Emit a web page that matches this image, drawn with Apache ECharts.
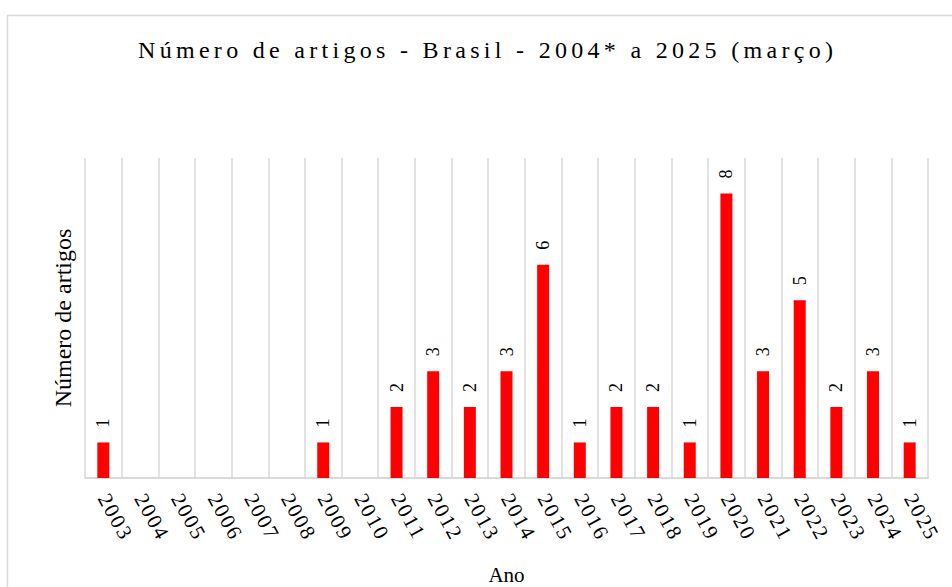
<!DOCTYPE html>
<html>
<head>
<meta charset="utf-8">
<script src="https://cdn.jsdelivr.net/npm/echarts@6/dist/echarts.min.js"></script>
<style>
html, body { margin: 0; padding: 0; background: #fff; }
#chart { width: 952px; height: 587px; }
</style>
</head>
<body>
<div id="chart"></div>
<script>
var anos = ['2003', '2004', '2005', '2006', '2007', '2008', '2009', '2010', '2011', '2012', '2013',
    '2014', '2015', '2016', '2017', '2018', '2019', '2020', '2021', '2022', '2023', '2024', '2025'];
var artigos = [1, 0, 0, 0, 0, 0, 1, 0, 2, 3, 2, 3, 6, 1, 2, 2, 1, 8, 3, 5, 2, 3, 1];
var titulo = 'Número de artigos - Brasil - 2004* a 2025 (março)';

var serif = 'Liberation Serif';

var myChart = echarts.init(document.getElementById('chart'), null, {renderer: 'svg'});

var option = {
    backgroundColor: '#fff',
    animation: false,
    title: {
        text: titulo,
        left: 133,
        top: 33,
        textStyle: {
            fontFamily: serif,
            fontSize: 24,
            fontWeight: 'normal',
            color: '#000'
        }
    },
    graphic: [
        {
            type: 'rect',
            left: 5,
            top: 13,
            shape: {width: 980, height: 620},
            style: {fill: 'none', stroke: '#d9d9d9', lineWidth: 1.5},
            silent: true
        }
    ],
    grid: {
        left: 85,
        right: 24,
        top: 158,
        bottom: 109,
        outerBoundsMode: 'none',
        containLabel: false
    },
    xAxis: {
        type: 'category',
        data: anos,
        name: 'Ano',
        nameLocation: 'middle',
        nameGap: 86,
        nameTextStyle: {fontFamily: serif, fontSize: 21, color: '#000'},
        axisLine: {lineStyle: {color: '#d9d9d9', width: 2}},
        axisTick: {show: false},
        splitLine: {show: true, lineStyle: {color: '#d9d9d9', width: 1.5}},
        axisLabel: {
            interval: 0,
            rotate: -61,
            margin: 17,
            fontFamily: serif,
            fontSize: 21,
            color: '#000'
        }
    },
    yAxis: {
        type: 'value',
        min: 0,
        max: 9,
        name: 'Número de artigos',
        nameLocation: 'middle',
        nameGap: 10,
        nameTextStyle: {fontFamily: serif, fontSize: 24, color: '#000'},
        axisLine: {show: false},
        axisTick: {show: false},
        axisLabel: {show: false},
        splitLine: {show: false}
    },
    series: [
        {
            type: 'bar',
            data: artigos,
            barWidth: 12,
            itemStyle: {color: '#ff0000'},
            label: {
                show: true,
                position: 'top',
                rotate: 90,
                align: 'left',
                verticalAlign: 'middle',
                distance: 15,
                fontFamily: serif,
                fontSize: 18,
                color: '#000',
                formatter: function (p)
                {
                    return p.value > 0 ? p.value : '';
                }
            }
        }
    ]
};
myChart.setOption(option);

// espaçamento entre letras, como no original
var textos = document.querySelectorAll('#chart text');
for (var i = 0; i < textos.length; i++)
{
    var t = textos[i].textContent;
    if (t == titulo)
        textos[i].style.letterSpacing = '4.3px';
    else if (anos.indexOf(t) >= 0)
        textos[i].style.letterSpacing = '2px';
}
</script>
</body>
</html>
